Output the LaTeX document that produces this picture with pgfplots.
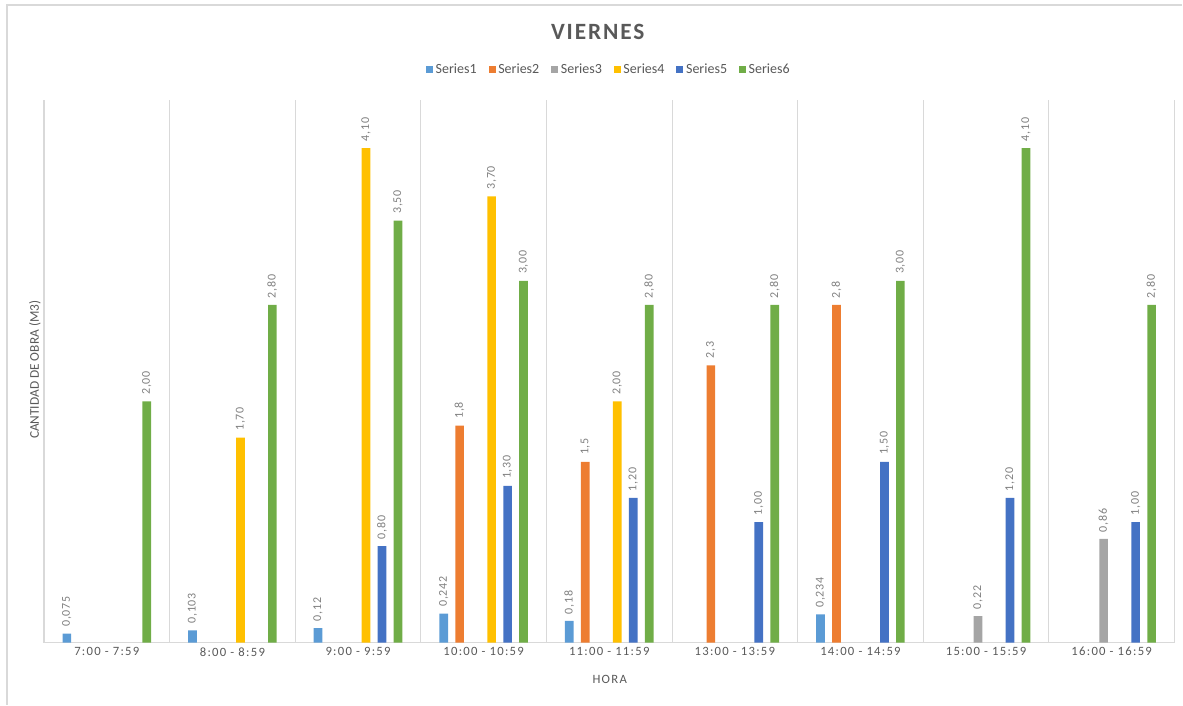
\documentclass[border=0pt]{standalone}
\usepackage{pgfplots}
\pgfplotsset{compat=1.18}
\usepackage{pgfplotstable}
\usepackage{graphicx}
\usepackage{fontspec}
\setmainfont{Carlito}
\newfontfamily\spaced[LetterSpace=10]{Carlito}
\newfontfamily\lblfont[LetterSpace=6]{Carlito}
\newfontfamily\titlefont[LetterSpace=8]{Carlito}

\definecolor{sone}{HTML}{5B9BD5}
\definecolor{stwo}{HTML}{ED7D31}
\definecolor{sthree}{HTML}{A5A5A5}
\definecolor{sfour}{HTML}{FFC000}
\definecolor{sfive}{HTML}{4472C4}
\definecolor{ssix}{HTML}{70AD47}
\definecolor{txt}{HTML}{595959}
\definecolor{lbl}{HTML}{808080}
\definecolor{gridc}{HTML}{D9D9D9}

% x = category index, y = value, lab = data label as shown
\pgfplotstableread{
x y lab
0 0.075 0,075
1 0.103 0,103
2 0.12 0,12
3 0.242 0,242
4 0.18 0,18
6 0.234 0,234
}\sone
\pgfplotstableread{
x y lab
3 1.8 1,8
4 1.5 1,5
5 2.3 2,3
6 2.8 2,8
}\stwo
\pgfplotstableread{
x y lab
7 0.22 0,22
8 0.86 0,86
}\sthree
\pgfplotstableread{
x y lab
1 1.70 1,70
2 4.10 4,10
3 3.70 3,70
4 2.00 2,00
}\sfour
\pgfplotstableread{
x y lab
2 0.80 0,80
3 1.30 1,30
4 1.20 1,20
5 1.00 1,00
6 1.50 1,50
7 1.20 1,20
8 1.00 1,00
}\sfive
\pgfplotstableread{
x y lab
0 2.00 2,00
1 2.80 2,80
2 3.50 3,50
3 3.00 3,00
4 2.80 2,80
5 2.80 2,80
6 3.00 3,00
7 4.10 4,10
8 2.80 2,80
}\ssix

\begin{document}
\begin{tikzpicture}[x=0.75pt,y=0.75pt]
  \path (0,0) rectangle (1183,705);
  \draw[gridc, line width=0.8pt] (7,0) -- (7,700) -- (1183,700);
  \node[font=\titlefont\bfseries\fontsize{17.5}{20}\selectfont, text=txt]
    at (598,673) {VIERNES};
  \node[font=\spaced\fontsize{9.5}{11}\selectfont, text=txt] at (610,25) {HORA};
  \node[font=\fontsize{10}{12}\selectfont, text=txt, rotate=90]
    at (35,335) {CANTIDAD DE OBRA (M3)};
  \begin{axis}[
    at={(33pt,46.5pt)}, anchor=south west,
    scale only axis,
    width=848.25pt, height=407.25pt,
    xmin=-0.5, xmax=8.5,
    ymin=0, ymax=4.5,
    axis x line*=bottom,
    axis y line=none,
    x axis line style={draw=gridc, line width=0.8pt, -},
    xtick={0,...,8},
    xticklabels={7:00 - 7:59, 8:00 - 8:59, 9:00 - 9:59, 10:00 - 10:59,
      11:00 - 11:59, 13:00 - 13:59, 14:00 - 14:59, 15:00 - 15:59,
      16:00 - 16:59},
    xticklabel style={font=\spaced\fontsize{9.5}{11}\selectfont, text=txt},
    ytick=\empty,
    major tick length=0pt,
    minor tick length=0pt,
    minor xtick={-0.5,0.5,...,8.5},
    xminorgrids,
    minor grid style={draw=gridc, line width=0.8pt},
    ybar,
    bar width=0.069,
    point meta=explicit symbolic,
    nodes near coords={\rotatebox{90}{\pgfplotspointmeta}},
    every node near coord/.append style={anchor=south, inner sep=0pt,
      yshift=5pt, font=\lblfont\fontsize{9}{10}\selectfont, text=lbl},
    legend style={at={(0.5,1.0553)}, anchor=center, draw=none,
      font=\fontsize{10.5}{12}\selectfont, text=txt, legend columns=6,
      /tikz/every even column/.append style={column sep=7pt}},
    legend image code/.code={\fill[#1] (0pt,-2.6pt) rectangle (5.2pt,2.6pt);},
  ]
    \addplot[fill=sone, draw=none, bar shift=-0.318] table[x=x, y=y, meta=lab] {\sone};
    \addlegendentry{Series1}
    \addplot[fill=stwo, draw=none, bar shift=-0.191] table[x=x, y=y, meta=lab] {\stwo};
    \addlegendentry{Series2}
    \addplot[fill=sthree, draw=none, bar shift=-0.064] table[x=x, y=y, meta=lab] {\sthree};
    \addlegendentry{Series3}
    \addplot[fill=sfour, draw=none, bar shift=0.064] table[x=x, y=y, meta=lab] {\sfour};
    \addlegendentry{Series4}
    \addplot[fill=sfive, draw=none, bar shift=0.191] table[x=x, y=y, meta=lab] {\sfive};
    \addlegendentry{Series5}
    \addplot[fill=ssix, draw=none, bar shift=0.318] table[x=x, y=y, meta=lab] {\ssix};
    \addlegendentry{Series6}
  \end{axis}
\end{tikzpicture}
\end{document}
